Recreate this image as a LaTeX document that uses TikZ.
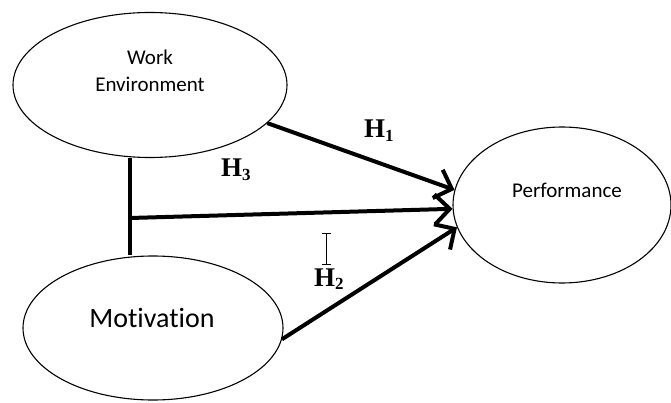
\documentclass[tikz,border=0pt]{standalone}
\usepackage{fontspec}
\setmainfont{Liberation Serif}
\newfontfamily\calib[Ligatures=NoCommon]{Carlito}
\usetikzlibrary{arrows.meta,shapes.geometric}
\newcommand{\hyp}[1]{\textbf{H\raisebox{-0.3ex}{\fontsize{17}{17}\selectfont #1}}}

\begin{document}
\begin{tikzpicture}[x=1pt,y=1pt,yscale=-1,xscale=1,
  var/.style={draw, ellipse, line width=1.1pt, inner sep=0pt},
  vtxt/.style={anchor=base, inner sep=0pt, font=\calib\fontsize{21}{21}\selectfont},
  effect/.style={line width=4pt, -{Straight Barb[length=15pt,width=30pt]}},
  hlbl/.style={anchor=base west, inner sep=0pt, font=\fontsize{27}{27}\selectfont}]

\useasboundingbox (0,0) rectangle (671,403);

\node[var, minimum width=274, minimum height=145] (we) at (150,85) {};
\node[var, minimum width=260, minimum height=144] (mot) at (153,328) {};
\node[var, minimum width=218, minimum height=156] (perf) at (562,205) {};

\node[vtxt] (weA) at (150,65) {Work};
\node[vtxt] (weB) at (150,92) {Environment};
\node[vtxt, font=\calib\fontsize{28}{28}\selectfont] (motT) at (152,327) {Motivation};
\node[vtxt] (perfT) at (567,198) {Performance};

% moderation link
\coordinate (jn) at (130,218);
\draw[line width=4pt] (jn |- we.south) -- (jn |- mot.north);

\draw[effect] (we.-18) -- (perf.172);
\draw[effect] (jn) -- (perf.182);
\draw[effect] (mot.-5) -- (perf.192);

\node[hlbl] (h1) at (364,138) {\hyp{1}};
\node[hlbl] (h3) at (221,177) {\hyp{3}};
\node[hlbl] (h2) at (314,286) {\hyp{2}};

%\draw [color=red] (0,0) rectangle (671,403);
\draw[line width=0.8pt] (322,233) -- (331,233) (326.5,233) -- (326.5,264) (322,264) -- (331,264);

\end{tikzpicture}
\end{document}
